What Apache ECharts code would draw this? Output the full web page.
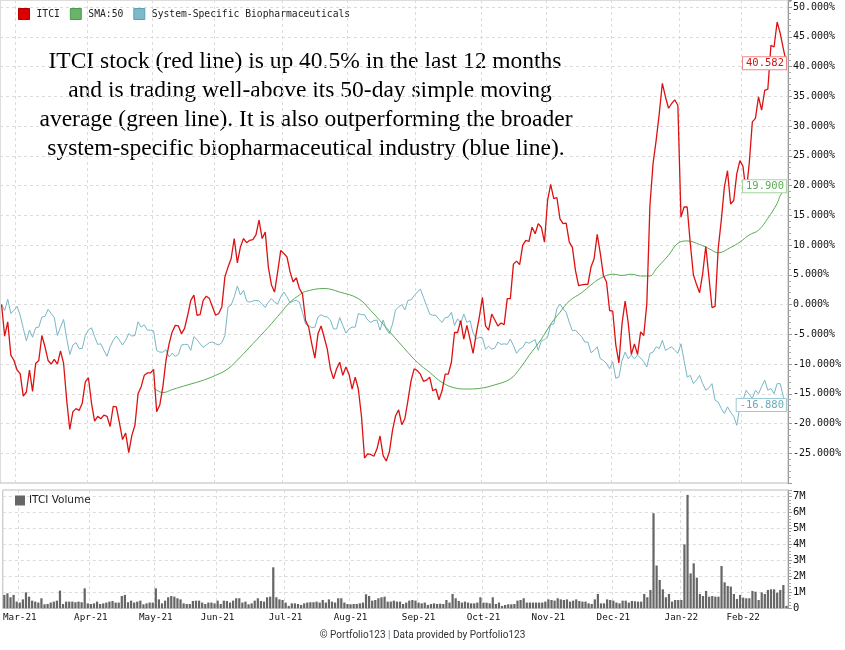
<!DOCTYPE html>
<html>
<head>
<meta charset="utf-8">
<script src="https://cdn.jsdelivr.net/npm/echarts@6/dist/echarts.min.js"></script>
<style>html,body{margin:0;padding:0;background:#fff}#c{width:845px;height:650px}</style>
</head>
<body>
<div id="c"></div>
<script>
// ---- categories: trading days Feb 22 2021 .. Feb 22 2022 ----
const startDate = '2021-02-22';
const endDate = '2022-02-22';
const holidays = ['2021-04-02','2021-05-31','2021-07-05','2021-09-06','2021-11-25','2021-12-24','2022-01-17','2022-02-21'];
const monthNames = ['Jan','Feb','Mar','Apr','May','Jun','Jul','Aug','Sep','Oct','Nov','Dec'];

// ---- series values (% change) ----
const itci = [
0,-5.3,-2.9,-8.5,-9.4,-11.0,-11.6,-15.4,-14.7,-11.0,
-14.6,-9.9,-9.4,-5.2,-7.1,-9.4,-10.0,-9.2,-10.0,-7.8,
-9.9,-16.1,-21.0,-18.0,-17.5,-17.8,-16.6,-13.0,-12.3,-16.6,
-19.6,-18.8,-19.2,-18.6,-18.8,-20.5,-17.1,-17.2,-19.9,-22.7,
-21.6,-24.9,-22.0,-20.3,-15.0,-13.8,-11.9,-11.5,-11.5,-10.9,
-18.0,-16.9,-13.8,-9.4,-6.6,-4.6,-3.5,-3.6,-4.9,-4.0,
-1.8,0.7,1.6,-1.8,-1.7,0.7,1.4,1.0,-0.4,-1.8,
-1.5,-0.4,4.7,6.3,7.7,11.1,7.0,9.7,11.1,10.4,
10.8,10.9,11.7,14.2,11.1,12.2,6.3,3.3,2.1,5.5,
9.1,8.6,8.0,5.5,3.8,4.5,2.7,
1.8,-2.7,-3.8,-6.6,-9.0,-4.9,-3.6,-5.5,-7.5,-10.8,
-12.5,-10.8,-9.7,-11.9,-10.5,-11.7,-14.2,-12.2,-14.2,-18.7,
-25.8,-25.1,-25.2,-25.5,-24.3,-22.1,-25.4,-26.3,-24.8,-21.2,
-18.7,-17.7,-20.2,-19.2,-16.1,-12.8,-10.8,-11.1,-11.7,-12.9,
-12.7,-12.2,-14.5,-14.2,-16.0,-14.5,-11.7,-11.7,-9.7,-4.7,
-4.7,-2.7,-5.8,-3.5,-5.8,-8.2,-4.9,-2.1,1.2,-3.6,
-4.3,-1.6,-2.6,-3.6,-3.1,-3.4,1.0,1.0,6.8,7.3,
6.7,10.0,10.8,10.6,13.0,11.9,13.6,13.0,10.5,17.5,
20.2,17.8,18.0,14.4,13.6,13.7,10.5,9.6,5.7,3.2,
3.3,3.4,3.4,6.3,7.7,11.8,8.6,4.9,3.8,-1.0,
-1.1,-6.8,-9.8,-3.2,0.6,-3.1,-8.4,-6.6,-8.4,-4.6,
-5.2,0.2,16.7,23.7,27.6,32.1,37.2,34.9,33.0,33.8,
34.4,33.5,14.7,16.4,16.4,10.3,5.0,3.4,2.0,5.2,
9.8,4.7,-0.5,-0.3,9.4,14.2,19.8,22.5,16.9,17.5,
22.0,24.2,23.2,18.8,23.7,30.7,31.3,34.9,32.7,36.0,
36.2,43.6,43.3,47.5,45.6,43.0,40.582
];
const industry = [
0,-1.0,0.9,-1.5,-1.0,-0.3,-1.8,-4.0,-6.1,-4.3,
-5.5,-3.9,-3.8,-2.1,-2.0,-0.8,-1.5,-2.2,-5.2,-3.8,
-2.5,-5.7,-8.4,-6.8,-6.4,-7.4,-7.4,-5.2,-4.3,-3.9,
-5.4,-6.7,-6.6,-7.7,-8.7,-7.1,-6.0,-5.3,-6.0,-6.8,
-6.0,-4.9,-5.3,-5.2,-2.9,-3.8,-3.4,-4.3,-4.3,-4.4,
-7.7,-8.0,-8.0,-7.6,-8.8,-8.2,-8.7,-8.4,-6.8,-6.7,
-6.7,-7.7,-5.4,-5.9,-6.6,-7.2,-6.8,-6.4,-6.3,-6.6,
-6.8,-6.4,-5.2,-0.4,-0.1,1.3,3.1,1.6,2.4,0.6,
0.4,0.6,0.7,0.6,0.1,-0.5,0.4,1.0,0.4,0.1,
1.3,2.1,1.3,0.3,0.6,0.7,0.4,
-1.3,-3.3,-3.5,-3.9,-3.8,-2.1,-1.7,-2.0,-2.1,-2.6,
-4.1,-4.1,-2.2,-3.5,-4.8,-4.1,-3.8,-3.8,-1.5,-1.7,
-1.7,-2.6,-3.0,-2.7,-2.6,-4.3,-2.6,-4.1,-4.9,-3.3,
-0.9,-0.4,0.0,-0.9,0.7,0.8,1.5,2.1,2.6,1.2,
-0.2,-1.6,-1.8,-1.8,-2.5,-3.0,-2.2,-2.1,-1.3,-3.5,
-2.4,-3.1,-1.6,-3.0,-2.7,-4.8,-5.8,-5.5,-5.6,-7.5,
-7.0,-7.5,-7.3,-6.3,-6.7,-6.6,-6.7,-5.8,-6.9,-8.2,
-7.5,-7.2,-6.3,-6.5,-6.2,-5.9,-7.7,-6.1,-5.9,-5.5,
-3.3,-3.3,-0.7,0.1,-0.7,-1.3,-3.0,-4.4,-4.3,-4.9,
-5.4,-6.3,-6.3,-8.1,-7.7,-7.1,-9.1,-9.4,-9.9,-10.8,
-9.6,-12.4,-12.2,-9.4,-8.0,-9.1,-8.5,-9.1,-8.5,-9.0,
-9.6,-10.5,-8.2,-8.0,-7.1,-7.4,-6.0,-7.7,-7.4,-7.1,
-7.7,-8.2,-6.6,-9.4,-12.2,-11.9,-13.3,-12.7,-11.9,-13.3,
-14.4,-14.0,-13.3,-16.1,-16.4,-17.5,-18.3,-17.2,-18.1,-18.8,
-20.3,-17.2,-16.1,-14.4,-15.1,-15.8,-14.4,-15.0,-13.8,-12.7,
-14.4,-14.1,-15.0,-13.3,-13.3,-15.5,-16.88
];
// SMA:50 readings at trading-day index
const smaIdx = [49,52,55,60,64,69,73,77,81,86,90,93,96,98,104,109,115,119,123,128,134,138,142,146,150,154,159,164,167,170,174,177,180,183,187,190,193,197,200,203,206,209,211,215,218,221,225,228,231,235,238,241,244,247,250,251,253];
const smaVal = [-14.0,-14.8,-14.3,-13.5,-12.9,-11.9,-10.8,-8.8,-6.6,-3.8,-1.4,0.4,1.6,2.2,2.7,2.1,1.0,-1.0,-3.3,-6.3,-9.7,-11.4,-13.1,-14.0,-14.2,-14.1,-13.5,-12.5,-10.8,-8.6,-5.8,-3.3,-1.3,0.6,2.0,3.3,4.4,5.1,4.9,5.1,4.8,4.8,6.0,8.3,10.3,10.7,10.1,9.4,8.7,9.6,10.5,11.7,12.5,14.5,17.0,18.3,19.9];
// volume, millions of shares
const volume = [
0.84,0.94,0.69,0.84,0.42,0.36,0.56,1.00,0.73,0.48,
0.42,0.36,0.63,0.25,0.27,0.36,0.42,0.48,1.11,0.27,
0.42,0.42,0.42,0.38,0.42,0.38,1.25,0.31,0.27,0.31,
0.42,0.27,0.31,0.36,0.42,0.46,0.36,0.36,0.77,0.84,
0.38,0.48,0.36,0.42,0.48,0.25,0.31,0.36,0.36,1.25,
0.56,0.31,0.48,0.69,0.77,0.73,0.63,0.56,0.31,0.27,
0.27,0.46,0.48,0.48,0.36,0.27,0.36,0.36,0.31,0.48,
0.27,0.48,0.46,0.36,0.48,0.63,0.63,0.36,0.42,0.25,
0.31,0.48,0.63,0.46,0.42,0.69,0.73,2.57,0.69,0.56,
0.52,0.36,0.15,0.31,0.31,0.27,0.21,0.31,0.36,0.38,
0.38,0.42,0.36,0.52,0.36,0.56,0.42,0.36,0.63,0.63,
0.36,0.27,0.25,0.27,0.27,0.31,0.36,0.88,0.77,0.48,
0.52,0.63,0.69,0.73,0.42,0.42,0.48,0.42,0.42,0.27,
0.36,0.48,0.52,0.48,0.36,
0.31,0.36,0.21,0.27,0.31,0.27,0.29,0.27,0.52,0.36,
0.90,0.63,0.46,0.36,0.42,0.36,0.31,0.31,0.36,0.69,
0.36,0.35,0.31,0.69,0.27,0.36,0.15,0.21,0.25,0.25,
0.27,0.48,0.52,0.63,0.36,0.36,0.36,0.36,0.36,0.36,
0.42,0.56,0.52,0.48,0.63,0.56,0.52,0.56,0.42,0.48,
0.56,0.46,0.42,0.42,0.31,0.27,0.56,0.90,0.31,0.31,
0.56,0.52,0.48,0.36,0.31,0.48,0.48,0.36,0.46,0.44,
0.42,0.42,0.90,0.69,1.15,5.96,2.68,1.78,1.19,0.69,
0.90,0.42,0.52,0.52,0.52,4.01,7.11,2.19,2.82,1.92,
0.90,0.77,1.09,0.73,0.77,0.73,0.73,2.65,1.63,1.40,
1.36,0.90,0.59,0.84,0.67,0.63,0.63,1.09,1.04,0.52,
1.00,0.90,1.15,1.19,1.19,0.98,1.15,1.46,0.15
];

// ---- build categories ----
const dates = [];
(function(){
  let t = Date.parse(startDate + 'T00:00:00Z');
  const end = Date.parse(endDate + 'T00:00:00Z');
  while (t <= end) {
    const d = new Date(t);
    const s = d.toISOString().slice(0,10);
    const wd = d.getUTCDay();
    if (wd !== 0 && wd !== 6 && holidays.indexOf(s) < 0) dates.push(s);
    t += 86400000;
  }
})();
const monthStart = dates.map((d,i) => i > 0 && d.slice(5,7) !== dates[i-1].slice(5,7));
const fmtMonth = v => monthNames[parseInt(v.slice(5,7),10)-1] + '-' + v.slice(2,4);
const smaData = smaIdx.map((ix,k) => [dates[ix], smaVal[k]]);
const last = dates.length - 1;

const mono = '"DejaVu Sans Mono", monospace';
const RED = '#dd1111', GREEN = '#5aaa55', BLUE = '#78b6c6';
const splitStyle = {color: '#dcdcdc', type: [3,3], width: 1};

function endMark(val, txt, col, border) {
  return {
    symbol: 'rect', symbolSize: 1, itemStyle: {color: 'rgba(0,0,0,0)'},
    silent: true,
    label: {show: true, position: 'left', distance: 0, formatter: txt, color: col,
      fontFamily: mono, fontSize: 10.5, backgroundColor: '#fff', borderColor: border,
      borderWidth: 1, padding: [1, 2, 0, 3]},
    data: [{coord: [dates[last], val], value: val}]
  };
}

const serif = '23.5px "Liberation Serif"';
const chart = echarts.init(document.getElementById('c'), null, {renderer: 'canvas'});
chart.setOption({
  animation: false,
  backgroundColor: '#fff',
  title: {
    text: '{a|© Portfolio123 }{b||}{a| Data provided by Portfolio123}',
    left: 'center', top: 630, padding: 0,
    textStyle: {rich: {
      a: {fontFamily: 'Roboto, sans-serif', fontSize: 10, fontWeight: 'normal', color: '#333'},
      b: {fontFamily: 'Roboto, sans-serif', fontSize: 10, fontWeight: 'normal', color: '#4a8ac0'}
    }}
  },
  legend: [
    {left: 18, top: 8, padding: 0, itemWidth: 11, itemHeight: 11, itemGap: 10, icon: 'rect',
     selectedMode: false,
     textStyle: {fontFamily: mono, fontSize: 9.7, color: '#222', padding: [0,0,0,2]},
     data: [
       {name: 'ITCI', itemStyle: {color: '#dd0000', borderColor: '#b00000', borderWidth: 1}},
       {name: 'SMA:50', itemStyle: {color: '#6ab36a', borderColor: '#4f994f', borderWidth: 1}},
       {name: 'System-Specific Biopharmaceuticals', itemStyle: {color: '#7cb9c9', borderColor: '#5f9fb0', borderWidth: 1}}
     ]},
    {left: 15, top: 495, padding: 0, itemWidth: 10, itemHeight: 10, icon: 'rect', selectedMode: false,
     textStyle: {fontFamily: '"DejaVu Sans", sans-serif', fontSize: 10.5, color: '#222', padding: [0,0,0,-1]},
     data: [{name: 'ITCI Volume', itemStyle: {color: '#666'}}]}
  ],
  grid: [
    {left: 0, right: 57, top: 0, height: 483, show: true, borderColor: '#bbb', borderWidth: 1},
    {left: 0, right: 57, top: 490, height: 118.3, show: true, borderColor: '#bbb', borderWidth: 1}
  ],
  xAxis: [
    {type: 'category', gridIndex: 0, data: dates, boundaryGap: true,
     axisLine: {show: false}, axisTick: {show: false}, axisLabel: {show: false},
     splitLine: {show: true, interval: (i) => monthStart[i], lineStyle: splitStyle}},
    {type: 'category', gridIndex: 1, data: dates, boundaryGap: true,
     axisLine: {show: false}, axisTick: {show: false},
     axisLabel: {show: true, interval: (i) => monthStart[i], formatter: fmtMonth,
       fontFamily: mono, fontSize: 9.3, color: '#111', margin: 5},
     splitLine: {show: true, interval: (i) => monthStart[i], lineStyle: splitStyle}}
  ],
  yAxis: [
    {type: 'value', gridIndex: 0, position: 'right', min: -30, max: 51.2, interval: 5,
     axisLine: {show: true, lineStyle: {color: '#999'}},
     axisTick: {show: true, length: 4, lineStyle: {color: '#999'}},
     minorTick: {show: true, splitNumber: 5, length: 3, lineStyle: {color: '#aaa'}},
     axisLabel: {formatter: v => v.toFixed(3) + '%', fontFamily: mono, fontSize: 10,
       color: '#111', margin: 5, showMinLabel: false, showMaxLabel: false},
     splitLine: {show: true, lineStyle: splitStyle}},
    {type: 'value', gridIndex: 1, position: 'right', min: 0, max: 7.417, interval: 1,
     axisLine: {show: true, lineStyle: {color: '#999'}},
     axisTick: {show: true, length: 4, lineStyle: {color: '#999'}},
     minorTick: {show: true, splitNumber: 5, length: 3, lineStyle: {color: '#aaa'}},
     axisLabel: {formatter: v => v === 0 ? '0' : v + 'M', fontFamily: mono, fontSize: 10.5,
       color: '#111', margin: 5, showMaxLabel: false},
     splitLine: {show: true, lineStyle: splitStyle}}
  ],
  series: [
    {name: 'System-Specific Biopharmaceuticals', type: 'line', xAxisIndex: 0, yAxisIndex: 0,
     data: industry, showSymbol: false, symbol: 'none',
     lineStyle: {color: BLUE, width: 1}, itemStyle: {color: BLUE},
     markPoint: endMark(-16.88, '-16.880', '#6aaabb', '#9ccad6')},
    {name: 'SMA:50', type: 'line', xAxisIndex: 0, yAxisIndex: 0,
     data: smaData, showSymbol: false, symbol: 'none', smooth: 0.4,
     lineStyle: {color: GREEN, width: 1}, itemStyle: {color: GREEN},
     markPoint: endMark(19.9, '19.900', '#5aaa55', '#a6d4a2')},
    {name: 'ITCI', type: 'line', xAxisIndex: 0, yAxisIndex: 0,
     data: itci, showSymbol: false, symbol: 'none',
     lineStyle: {color: RED, width: 1.3}, itemStyle: {color: RED},
     markPoint: endMark(40.582, '40.582', '#dd1111', '#ee8888')},
    {name: 'ITCI Volume', type: 'bar', xAxisIndex: 1, yAxisIndex: 1,
     data: volume, barWidth: '72%', itemStyle: {color: '#666'}}
  ],
  graphic: [
    {type: 'text', x: 305, y: 62, style: {text: 'ITCI stock (red line) is up 40.5% in the last 12 months', font: serif, fill: '#000', textAlign: 'center', textVerticalAlign: 'middle'}},
    {type: 'text', x: 310, y: 91, style: {text: 'and is trading well-above its 50-day simple moving', font: serif, fill: '#000', textAlign: 'center', textVerticalAlign: 'middle'}},
    {type: 'text', x: 306, y: 120, style: {text: 'average (green line). It is also outperforming the broader', font: serif, fill: '#000', textAlign: 'center', textVerticalAlign: 'middle'}},
    {type: 'text', x: 306, y: 149, style: {text: 'system-specific biopharmaceutical industry (blue line).', font: serif, fill: '#000', textAlign: 'center', textVerticalAlign: 'middle'}}
  ]
});
</script>
</body>
</html>
